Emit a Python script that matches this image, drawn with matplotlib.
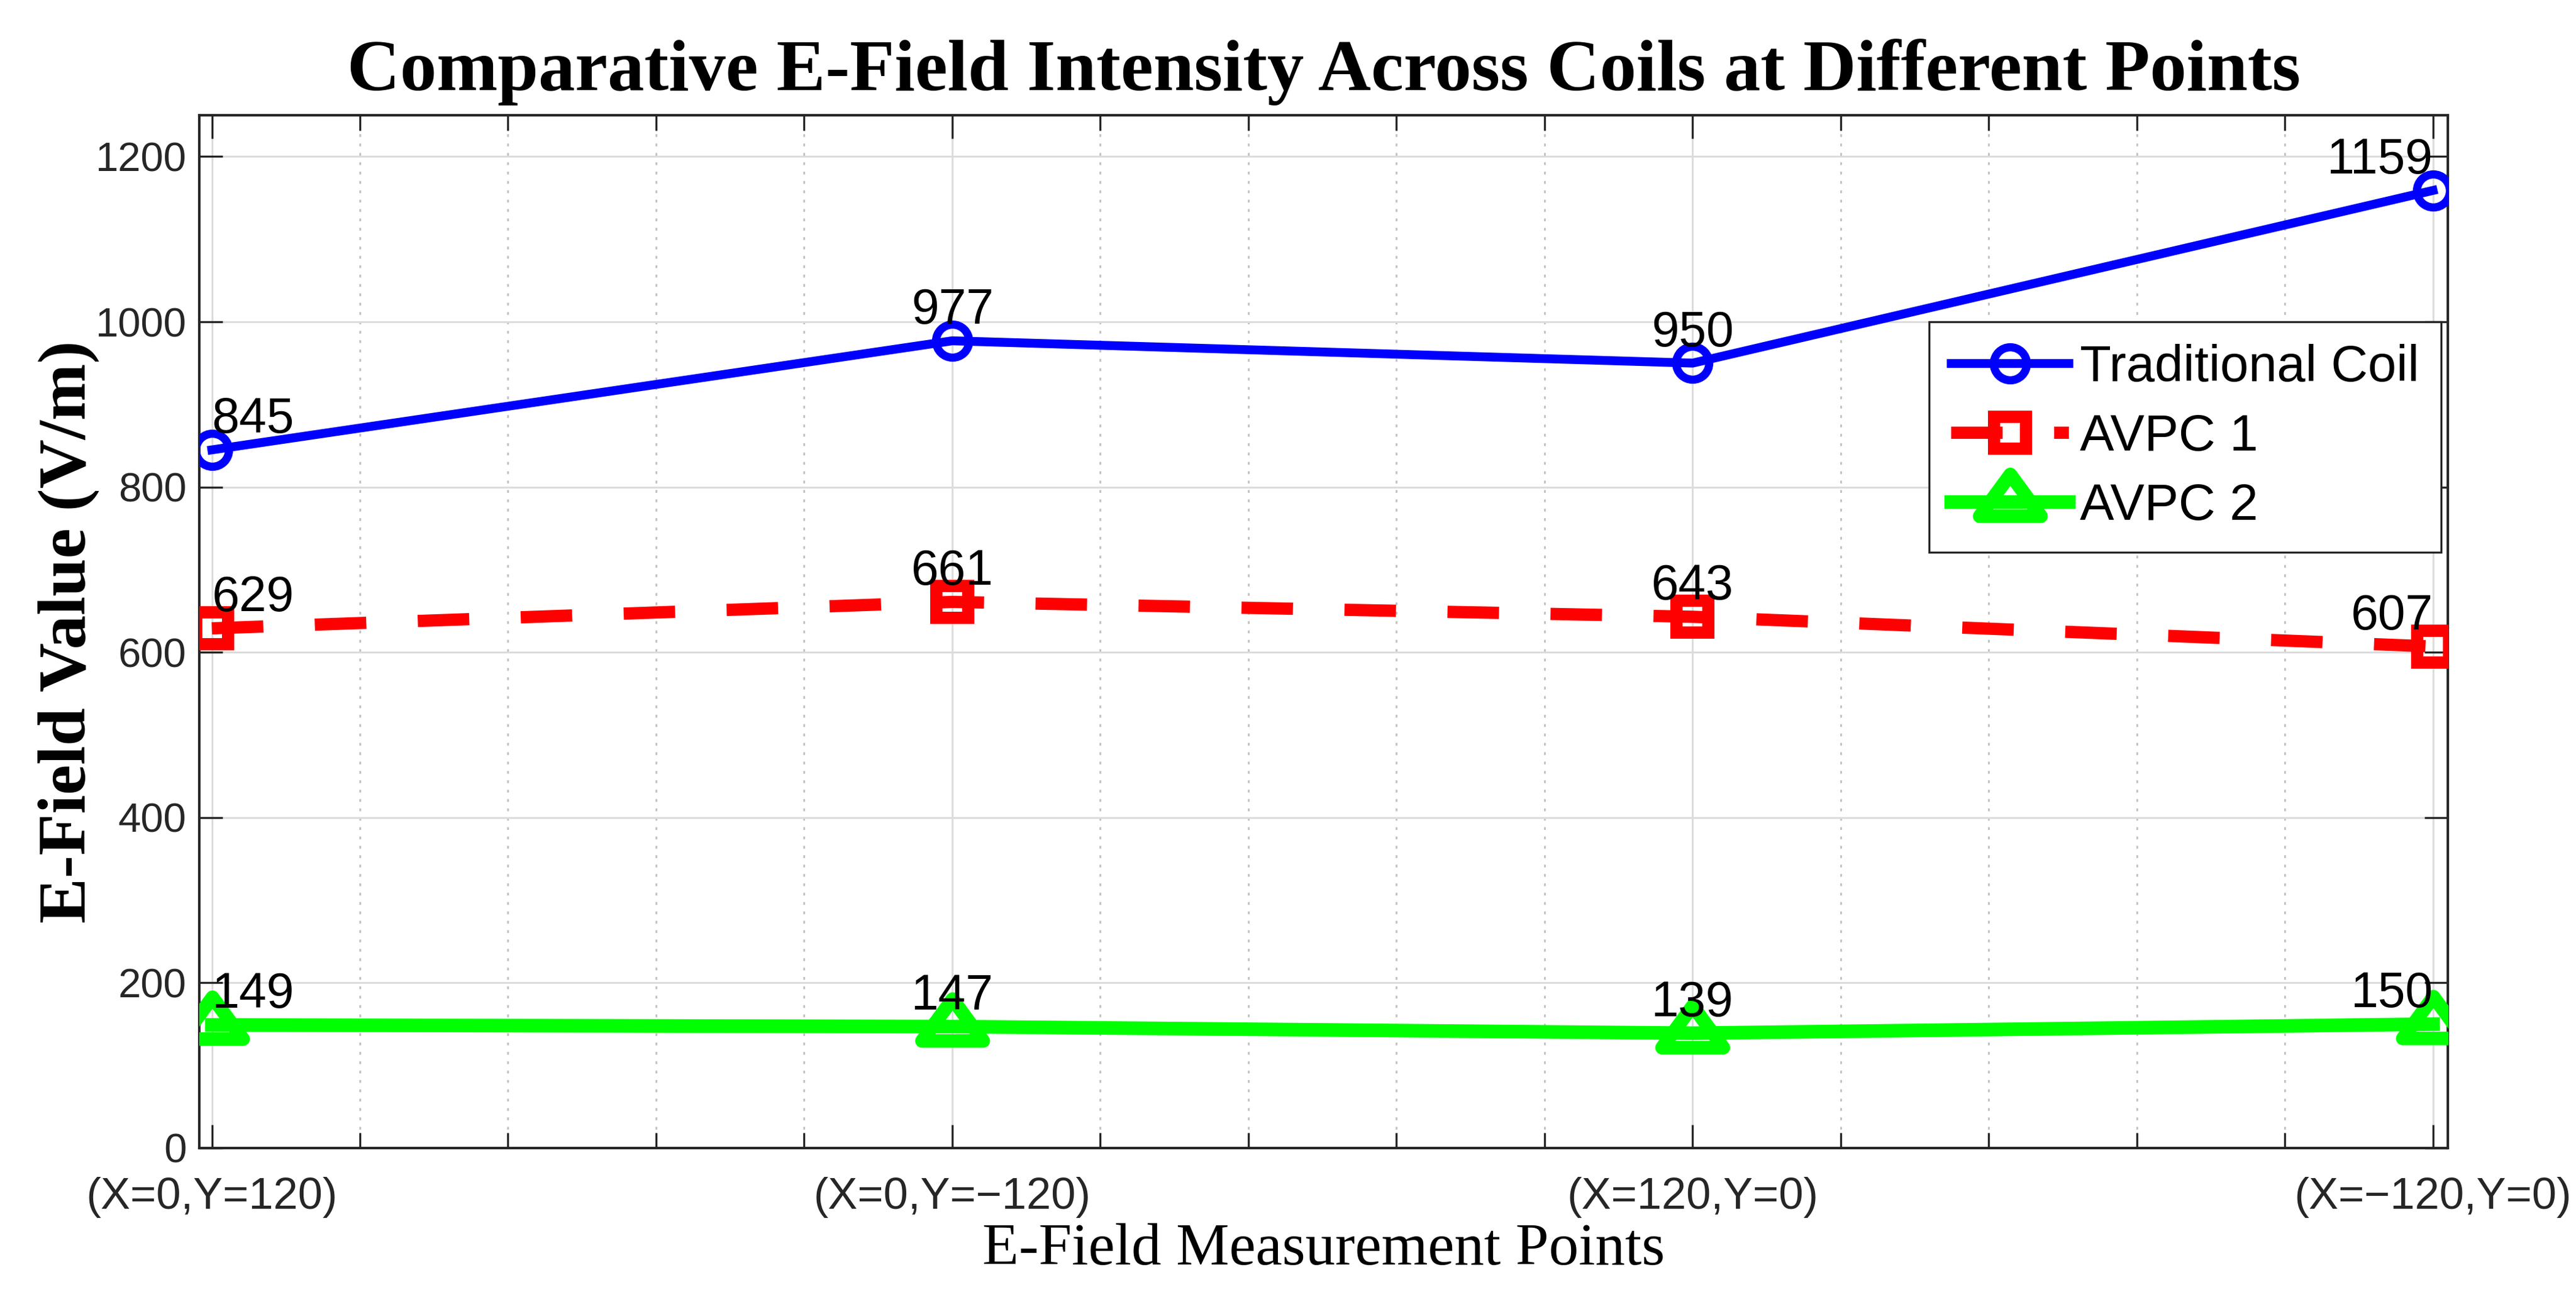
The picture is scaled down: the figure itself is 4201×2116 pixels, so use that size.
import matplotlib
matplotlib.use("Agg")
import matplotlib.pyplot as plt
from matplotlib.markers import MarkerStyle
from matplotlib.path import Path
from matplotlib.ticker import MultipleLocator

points = ["(X=0,Y=120)", "(X=0,Y=\u2212120)", "(X=120,Y=0)", "(X=\u2212120,Y=0)"]
traditional = [845, 977, 950, 1159]
avpc1 = [629, 661, 643, 607]
avpc2 = [149, 147, 139, 150]

x = [1, 2, 3, 4]

sans = "Liberation Sans"
serif = "Liberation Serif"

fig = plt.figure(figsize=(21.005, 10.58), dpi=200)
ax = fig.add_axes([0.07736, 0.11484, 0.87289, 0.79631])

# wide MATLAB-like triangle, closed so the corners get mitred
tri_path = Path([(0, 40), (-44, -20), (44, -20), (0, 40)],
                [Path.MOVETO, Path.LINETO, Path.LINETO, Path.CLOSEPOLY])
tri = MarkerStyle(tri_path, joinstyle="miter")

ax.plot(x, traditional, color="#0000ff", lw=5.2, marker="o", ms=19.4,
        mew=4.8, mfc="none", label="Traditional Coil", zorder=3)
ax.plot(x, avpc1, color="#ff0000", lw=7.2, dashes=(4.2, 4.2), marker="s",
        ms=18.7, mew=7.2, mfc="none", label="AVPC 1", zorder=3)
ax.plot(x, avpc2, color="#00ff00", lw=8, marker=tri, ms=36, mew=8,
        mfc="none", label="AVPC 2", zorder=3)

# value labels
for series in [traditional, avpc1, avpc2]:
    for i in range(len(x)):
        if i == 0:
            ha = "left"
        elif i == len(x) - 1:
            ha = "right"
        else:
            ha = "center"
        ax.annotate(str(series[i]), (x[i], series[i]), xytext=(0, 10),
                    textcoords="offset points", ha=ha, va="baseline",
                    fontsize=29, family=sans, color="black", zorder=4)

ax.set_xlim(0.983, 4.02)
ax.set_ylim(0, 1250)
ax.set_xticks(x)
ax.set_xticklabels(points, family=sans, fontsize=26, color="#262626")
ax.xaxis.set_minor_locator(MultipleLocator(0.2))
ax.set_yticks(range(0, 1201, 200))
ax.set_yticklabels([str(v) for v in range(0, 1201, 200)], family=sans,
                   fontsize=24, color="#262626")

ax.set_axisbelow(True)
ax.grid(which="major", axis="both", color="#dcdcdc", lw=1.1, ls="-")
ax.grid(which="minor", axis="x", color="#c4c4c4", lw=1.1, ls=(0, (1.5, 3.5)))

ax.tick_params(which="both", direction="in", top=True, right=True,
               color="#262626", width=1.2)
ax.tick_params(which="major", length=13.7)
ax.tick_params(axis="x", which="major", pad=17)
ax.tick_params(axis="y", which="major", pad=7.5)
ax.tick_params(which="minor", length=9)
for s in ax.spines.values():
    s.set_linewidth(1.5)
    s.set_color("#262626")

ax.set_title("Comparative E-Field Intensity Across Coils at Different Points",
             family=serif, fontsize=43, fontweight="bold", pad=14.8)
ax.set_xlabel("E-Field Measurement Points", family=serif, fontsize=35,
              labelpad=3)
ax.set_ylabel("E-Field Value (V/m)", family=serif, fontsize=40,
              fontweight="bold")
ax.yaxis.set_label_coords(-0.0445, 0.5)

leg = ax.legend(loc="upper right", bbox_to_anchor=(0.997, 0.800),
                borderaxespad=0, prop={"family": sans, "size": 30},
                fancybox=False, framealpha=1, edgecolor="#262626",
                handlelength=2.3, handletextpad=0.22, borderpad=0.43,
                labelspacing=0.42)
leg.get_frame().set_linewidth(1.2)

fig.savefig("out.png", dpi=200)
